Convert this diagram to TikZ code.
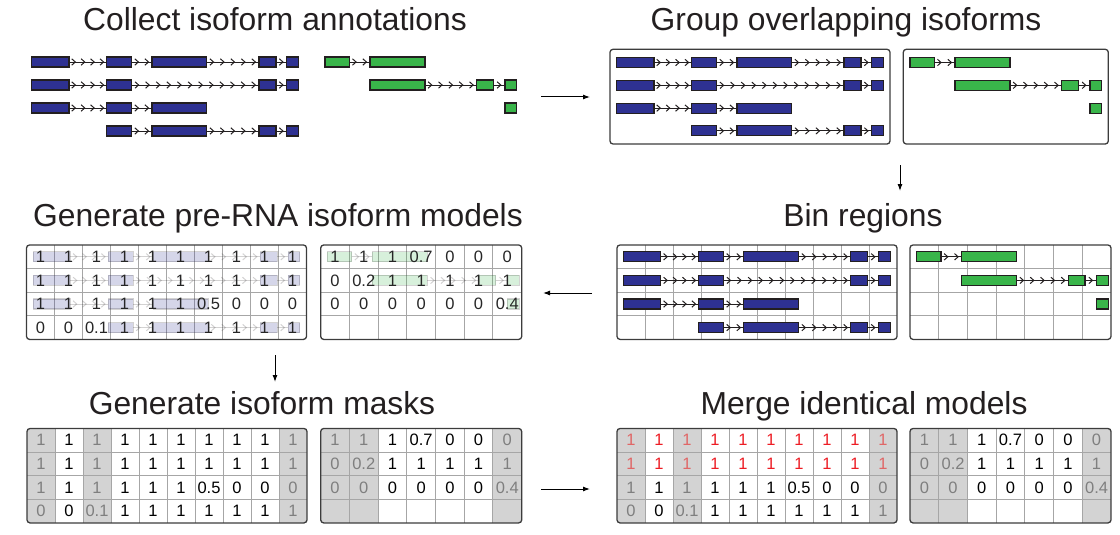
\documentclass[tikz,border=0pt]{standalone}
\usepackage{fontspec}
\setmainfont{Liberation Sans}
\usetikzlibrary{arrows.meta}
\definecolor{exblue}{HTML}{2E3192}
\definecolor{exgreen}{HTML}{39B54A}
\definecolor{exline}{HTML}{231F20}
\definecolor{gridc}{HTML}{A6A6A6}
\definecolor{boxc}{HTML}{3C3C3C}
\definecolor{maskfill}{HTML}{D3D3D3}
\definecolor{masktext}{HTML}{7F7F7F}
\definecolor{mred}{HTML}{ED1C24}
\definecolor{mredlt}{HTML}{E06666}
\definecolor{titlec}{HTML}{231F20}
\tikzset{
 exon/.style={draw=exline, line width=1.1pt},
 intronline/.style={draw=exline, line width=0.9pt},
 chev/.style={draw=exline, line width=1pt},
 panel/.style={draw=boxc, line width=1.3pt, rounded corners=3pt},
 gridline/.style={draw=gridc, line width=0.9pt},
 title/.style={font=\fontsize{31.8}{36}\selectfont, text=titlec, anchor=base, inner sep=0pt},
 num/.style={font=\fontsize{16.5}{18}\selectfont, inner sep=0pt},
 flow/.style={-{Latex[length=7pt,width=5pt]}, line width=1pt, black},
}
\newcommand\Exon[4]{\draw[exon, fill=#4] (#1,#3-5) rectangle (#2,#3+5);}
\newcommand\Intron[4]{%
 \draw[intronline] (#1,#3) -- (#2,#3);
 \foreach \k in {1,...,#4}{%
   \pgfmathsetmacro\cx{#1+(\k-0.5)*(#2-#1)/#4}%
   \draw[chev] (\cx-2,#3-3.2) -- (\cx+1.6,#3) -- (\cx-2,#3+3.2);
 }}
\newcommand\BlueIso[2]{%
 \pgfmathsetmacro\ya{#1}\pgfmathsetmacro\yb{#1+#2}\pgfmathsetmacro\yc{#1+2*#2}\pgfmathsetmacro\yd{#1+3*#2}%
 \Intron{69}{106.7}{\ya}{4}\Intron{131.7}{152}{\ya}{2}\Intron{206.7}{259}{\ya}{5}\Intron{276}{286.7}{\ya}{1}%
 \Exon{31.7}{69}{\ya}{exblue}\Exon{106.7}{131.7}{\ya}{exblue}\Exon{152}{206.7}{\ya}{exblue}\Exon{259}{276}{\ya}{exblue}\Exon{286.7}{298.3}{\ya}{exblue}%
 \Intron{69}{106.7}{\yb}{4}\Intron{131.7}{259}{\yb}{12}\Intron{276}{286.7}{\yb}{1}%
 \Exon{31.7}{69}{\yb}{exblue}\Exon{106.7}{131.7}{\yb}{exblue}\Exon{259}{276}{\yb}{exblue}\Exon{286.7}{298.3}{\yb}{exblue}%
 \Intron{69}{106.7}{\yc}{4}\Intron{131.7}{152}{\yc}{2}%
 \Exon{31.7}{69}{\yc}{exblue}\Exon{106.7}{131.7}{\yc}{exblue}\Exon{152}{206.7}{\yc}{exblue}%
 \Intron{131.7}{152}{\yd}{2}\Intron{206.7}{259}{\yd}{5}\Intron{276}{286.7}{\yd}{1}%
 \Exon{106.7}{131.7}{\yd}{exblue}\Exon{152}{206.7}{\yd}{exblue}\Exon{259}{276}{\yd}{exblue}\Exon{286.7}{298.3}{\yd}{exblue}%
}
\newcommand\GreenIso[2]{%
 \pgfmathsetmacro\ya{#1}\pgfmathsetmacro\yb{#1+#2}\pgfmathsetmacro\yc{#1+2*#2}%
 \Intron{349.3}{370}{\ya}{2}%
 \Exon{325}{349.3}{\ya}{exgreen}\Exon{370}{425}{\ya}{exgreen}%
 \Intron{425}{476.7}{\yb}{5}\Intron{493.3}{505}{\yb}{1}%
 \Exon{370}{425}{\yb}{exgreen}\Exon{476.7}{493.3}{\yb}{exgreen}\Exon{505}{516.7}{\yb}{exgreen}%
 \Exon{505}{516.7}{\yc}{exgreen}%
}
% grid: x0 y0 nlines colw width
\newcommand\Grid[5]{%
 \foreach \c in {1,...,#3}{\draw[gridline] ({#1+\c*#4},#2) -- ({#1+\c*#4},{#2+94.4});}
 \foreach \r in {1,2,3}{\draw[gridline] (#1,{#2+\r*23.6}) -- ({#1+#5},{#2+\r*23.6});}
}
% gray column: x0 y0 width col colw
\newcommand\GrayCols[5]{%
 \begin{scope}
 \clip[rounded corners=3pt] (#1,#2) rectangle ({#1+#3},{#2+94.4});
 \foreach \c in {#4}{\fill[maskfill] ({#1+(\c-1)*#5},#2) rectangle ({#1+\c*#5},{#2+94.4});}
 \end{scope}}
% numbers: x0 y0 row colw values g1 g2 g3
\newcommand\NumRow[8]{%
 \foreach \v [count=\c] in {#5}{%
  \ifnum\c=#6 \def\tc{\gcol}\else\ifnum\c=#7 \def\tc{\gcol}\else\ifnum\c=#8 \def\tc{\gcol}\else\def\tc{\ncol}\fi\fi\fi
  \node[num, text=\tc] at ({#1+(\c-0.5)*#4},{#2+(#3-0.5)*23.6}) {\v};}}
\newcommand\BlueNums[5]{% x0 y0 g1 g2 g3
 \NumRow{#1}{#2}{1}{28}{1,1,1,1,1,1,1,1,1,1}{#3}{#4}{#5}%
 \NumRow{#1}{#2}{2}{28}{1,1,1,1,1,1,1,1,1,1}{#3}{#4}{#5}%
 \NumRow{#1}{#2}{3}{28}{1,1,1,1,1,1,0.5,0,0,0}{#3}{#4}{#5}%
 \NumRow{#1}{#2}{4}{28}{0,0,0.1,1,1,1,1,1,1,1}{#3}{#4}{#5}}
\newcommand\GreenNums[5]{% x0 y0 g1 g2 g3
 \NumRow{#1}{#2}{1}{28.7}{1,1,1,0.7,0,0,0}{#3}{#4}{#5}%
 \NumRow{#1}{#2}{2}{28.7}{0,0.2,1,1,1,1,1}{#3}{#4}{#5}%
 \NumRow{#1}{#2}{3}{28.7}{0,0,0,0,0,0,0.4}{#3}{#4}{#5}}
\begin{document}
\begin{tikzpicture}[x=1pt,y=-1pt]
\useasboundingbox (0,0) rectangle (1120,535);
% titles
\node[title] (t1) at (275,31) {Collect isoform annotations};
\node[title] (t2) at (846,31) {Group overlapping isoforms};
\node[title] (t3) at (278,226) {Generate pre-RNA isoform models};
\node[title] (t4) at (863,226) {Bin regions};
\node[title] (t5) at (262,414) {Generate isoform masks};
\node[title] (t6) at (864,414) {Merge identical models};
% panel 1: annotations
\BlueIso{62}{23}
\GreenIso{62}{23}
% panel 2: groups
\begin{scope}[xshift=585pt]
 \BlueIso{62.5}{22.8}
 \GreenIso{62.5}{22.8}
\end{scope}
\draw[panel] (610,49.3) rectangle (890,144);
\draw[panel] (903.3,49.3) rectangle (1108.3,144);
% panel 3: bin regions
\Grid{617}{245}{9}{28}{280}
\Grid{910}{245}{6}{28.7}{201}
\begin{scope}[xshift=591.9pt]
 \BlueIso{256.8}{23.6}
\end{scope}
\begin{scope}[xshift=591.7pt]
 \GreenIso{256.8}{23.6}
\end{scope}
\draw[panel] (617,245) rectangle (897,339.4);
\draw[panel] (910,245) rectangle (1111,339.4);
% panel 4: pre-RNA models
\Grid{26.5}{245}{9}{28}{280}
\Grid{320.7}{245}{6}{28.7}{201}
\begin{scope}[xshift=1.4pt, opacity=0.2]
 \BlueIso{256.8}{23.6}
\end{scope}
\begin{scope}[xshift=2.4pt, opacity=0.2]
 \GreenIso{256.8}{23.6}
\end{scope}
\def\gcol{black!85}\def\ncol{black!85}
\BlueNums{26.5}{245}{0}{0}{0}
\GreenNums{320.7}{245}{0}{0}{0}
\draw[panel] (26.5,245) rectangle (306.5,339.4);
\draw[panel] (320.7,245) rectangle (521.7,339.4);
% panel 5: masks
\GrayCols{27}{428.5}{280}{1,3,10}{28}
\GrayCols{320.7}{428.5}{201}{1,2,7}{28.7}
\Grid{27}{428.5}{9}{28}{280}
\Grid{320.7}{428.5}{6}{28.7}{201}
\def\gcol{masktext}\def\ncol{black}
\BlueNums{27}{428.5}{1}{3}{10}
\GreenNums{320.7}{428.5}{1}{2}{7}
\draw[panel] (27,428.5) rectangle (307,522.9);
\draw[panel] (320.7,428.5) rectangle (521.7,522.9);
% panel 6: merge
\GrayCols{617}{428.5}{280}{1,3,10}{28}
\GrayCols{910}{428.5}{201}{1,2,7}{28.7}
\Grid{617}{428.5}{9}{28}{280}
\Grid{910}{428.5}{6}{28.7}{201}
\def\gcol{mredlt}\def\ncol{mred}
\NumRow{617}{428.5}{1}{28}{1,1,1,1,1,1,1,1,1,1}{1}{3}{10}
\NumRow{617}{428.5}{2}{28}{1,1,1,1,1,1,1,1,1,1}{1}{3}{10}
\def\gcol{masktext}\def\ncol{black}
\NumRow{617}{428.5}{3}{28}{1,1,1,1,1,1,0.5,0,0,0}{1}{3}{10}
\NumRow{617}{428.5}{4}{28}{0,0,0.1,1,1,1,1,1,1,1}{1}{3}{10}
\GreenNums{910}{428.5}{1}{2}{7}
\draw[panel] (617,428.5) rectangle (897,522.9);
\draw[panel] (910,428.5) rectangle (1111,522.9);
% flow arrows
\coordinate (a1s) at (541,97);  \coordinate (a1e) at (590,97);
\coordinate (a2s) at (900,165); \coordinate (a2e) at (900,191);
\coordinate (a3s) at (592,293); \coordinate (a3e) at (543,293);
\coordinate (a4s) at (275,355); \coordinate (a4e) at (275,382);
\coordinate (a5s) at (541,489); \coordinate (a5e) at (590,489);
\draw[flow] (a1s) -- (a1e);
\draw[flow] (a2s) -- (a2e);
\draw[flow] (a3s) -- (a3e);
\draw[flow] (a4s) -- (a4e);
\draw[flow] (a5s) -- (a5e);
\end{tikzpicture}
\end{document}
